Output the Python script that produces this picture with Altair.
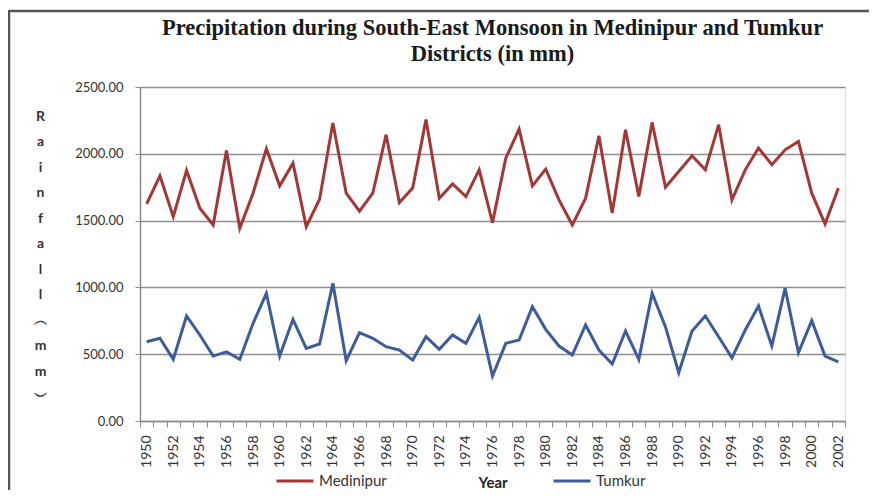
import altair as alt
import pandas as pd

years = [1950, 1951, 1952, 1953, 1954, 1955, 1956, 1957, 1958, 1959,
         1960, 1961, 1962, 1963, 1964, 1965, 1966, 1967, 1968, 1969,
         1970, 1971, 1972, 1973, 1974, 1975, 1976, 1977, 1978, 1979,
         1980, 1981, 1982, 1983, 1984, 1985, 1986, 1987, 1988, 1989,
         1990, 1991, 1992, 1993, 1994, 1995, 1996, 1997, 1998, 1999,
         2000, 2001, 2002]

medinipur = [1625, 1835, 1530, 1875, 1593, 1468, 2025, 1443, 1705, 2038,
             1760, 1930, 1455, 1660, 2230, 1705, 1570, 1705, 2143, 1635,
             1743, 2256, 1668, 1775, 1680, 1880, 1485, 1968, 2185, 1760,
             1885, 1655, 1468, 1668, 2135, 1556, 2180, 1680, 2235, 1750,
             1868, 1985, 1880, 2218, 1655, 1880, 2043, 1918, 2030, 2093,
             1705, 1475, 1743]

tumkur = [593, 619, 461, 786, 644, 486, 518, 461, 731, 956,
          486, 761, 544, 576, 1031, 451, 661, 619, 556, 531,
          456, 631, 536, 644, 581, 776, 336, 581, 606, 856,
          686, 561, 494, 719, 531, 426, 674, 461, 956, 706,
          361, 674, 786, 631, 473, 681, 861, 561, 994, 511,
          751, 486, 443]

series_names = ["Medinipur", "Tumkur"]
series_colors = ["#A43735", "#3D5C9B"]
y_ticks = [0, 500, 1000, 1500, 2000, 2500]
title_lines = ["Precipitation during South-East Monsoon in Medinipur and Tumkur",
               "Districts (in mm)"]
y_title_letters = ["R", "a", "i", "n", "f", "a", "l", "l", " ", "︵", "m", "m", "︶"]

df = pd.DataFrame({
    "Year": years + years,
    "Rainfall": medinipur + tumkur,
    "District": [series_names[0]] * len(years) + [series_names[1]] * len(years),
})

W, H = 705, 334
PAD = {"left": 132, "top": 79, "right": 24, "bottom": 69}

lines = alt.Chart(df).mark_line(strokeWidth=3).encode(
    x=alt.X("Year:O",
            scale=alt.Scale(type="band", paddingInner=0, paddingOuter=0),
            axis=alt.Axis(title="Year", labelAngle=-90, labelAlign="right",
                          labelBaseline="middle",
                          labelExpr="datum.value % 2 == 0 ? datum.label : ''",
                          tickBand="extent", tickSize=6, tickColor="#8a8a8a",
                          domainColor="#8a8a8a", domainWidth=1.5,
                          labelFont="Lato", labelFontSize=14, labelColor="#333333",
                          labelPadding=8,
                          titleFont="Lato", titleFontSize=15, titleFontWeight="bold",
                          titleColor="#222222", titleY=66, titleBaseline="alphabetic",
                          grid=False)),
    y=alt.Y("Rainfall:Q",
            scale=alt.Scale(domain=[0, 2500], nice=False),
            axis=alt.Axis(values=y_ticks, format=".2f",
                          labelFont="Lato", labelFontSize=13, labelColor="#333333",
                          labelPadding=12, tickSize=5, tickColor="#8a8a8a",
                          domainColor="#8a8a8a", domainWidth=1.5,
                          gridColor="#8f8f8f", gridWidth=1.5,
                          title=y_title_letters, titleAngle=0,
                          titleFont="Lato", titleFontSize=14, titleFontWeight="bold",
                          titleColor="#333333", titleLineHeight=25.5,
                          titleAlign="center", titleBaseline="top",
                          titleX=-100, titleY=22)),
    color=alt.Color("District:N",
                    scale=alt.Scale(domain=series_names, range=series_colors),
                    legend=alt.Legend(title=None, orient="none", direction="horizontal",
                                      legendX=135, legendY=374,
                                      symbolType="stroke", symbolSize=1369,
                                      symbolStrokeWidth=3, columnPadding=160,
                                      labelFont="Lato", labelFontSize=15,
                                      labelColor="#333333", labelOffset=4)),
)

frame_src = pd.DataFrame({"f": [0]})
frame_top = alt.Chart(frame_src).mark_rule(
    stroke="#555555", strokeWidth=2.5, clip=False
).encode(x=alt.value(-131), x2=alt.value(W + PAD["right"]), y=alt.value(-76))
frame_left = alt.Chart(frame_src).mark_rule(
    stroke="#555555", strokeWidth=2.5, clip=False
).encode(x=alt.value(-131), y=alt.value(-77), y2=alt.value(H + PAD["bottom"]))

chart = alt.layer(frame_top, frame_left, lines).properties(
    width=W, height=H,
    title=alt.TitleParams(text=title_lines, font="Liberation Serif", fontSize=22.5,
                          fontWeight="bold", color="#1a1a1a", anchor="middle",
                          frame="group", lineHeight=26, offset=-57),
    autosize=alt.AutoSizeParams(type="none"),
    padding=PAD,
).configure_view(stroke=None).configure(background="white")

chart.save("out.html", embed_options={"renderer": "svg", "actions": False})
